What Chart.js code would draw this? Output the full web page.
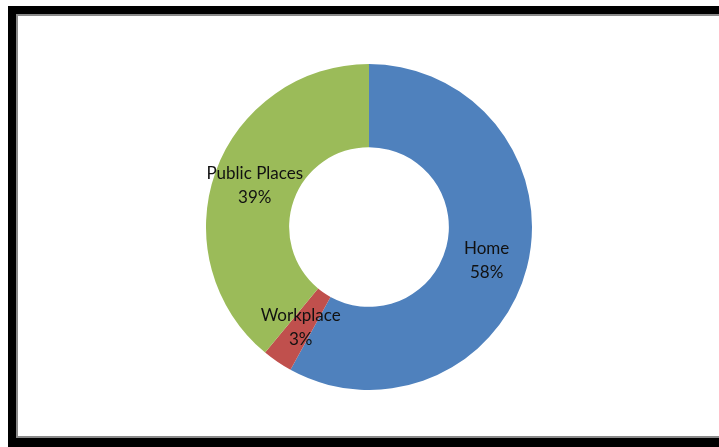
<!DOCTYPE html>
<html>
<head>
<meta charset="utf-8">
<script src="https://cdn.jsdelivr.net/npm/chart.js@4"></script>
<style>
  body { margin: 0; background: #fff; overflow: hidden; width: 719px; height: 447px; position: relative; }
  #frame { position: absolute; left: 8px; top: 6px; width: 800px; height: 500px; background: #000; }
  #edge { position: absolute; left: 16px; top: 14px; width: 800px; height: 424px; background: #8a8a8a; }
  #plot { position: absolute; left: 18px; top: 16px; width: 800px; height: 420px; background: #fff; }
  #box { position: absolute; left: 206px; top: 64px; width: 326px; height: 326px; }
</style>
</head>
<body>
<div id="frame"></div>
<div id="edge"></div>
<div id="plot"></div>
<div id="box"><canvas id="pieChart"></canvas></div>
<script>
// Données
const labels = ['Home', 'Workplace', 'Public Places'];
const values = [58, 3, 39];
const colors = ['#4F81BD', '#C0504D', '#9BBB59'];

// étiquettes au milieu de chaque part
const sliceLabels = {
  id: 'sliceLabels',
  afterDatasetsDraw(chart) {
    const ctx = chart.ctx;
    const meta = chart.getDatasetMeta(0);
    ctx.save();
    ctx.font = '17px Lato, sans-serif';
    ctx.fillStyle = '#111';
    ctx.textAlign = 'center';
    ctx.textBaseline = 'middle';
    meta.data.forEach((arc, i) => {
      const p = arc.tooltipPosition();
      const dy = i === 0 ? 3 : 0;
      ctx.fillText(labels[i], p.x, p.y - 12 + dy);
      ctx.fillText(values[i] + '%', p.x, p.y + 12 + dy);
    });
    ctx.restore();
  }
};

new Chart(document.getElementById('pieChart'), {
  type: 'doughnut',
  data: {
    labels: labels,
    datasets: [{
      data: values,
      backgroundColor: colors,
      borderWidth: 0,
      offset: 0,
      hoverOffset: 0
    }]
  },
  options: {
    responsive: true,
    maintainAspectRatio: false,
    animation: false,
    events: [],
    cutout: '49%',
    layout: { padding: 0 },
    plugins: {
      legend: { display: false },
      tooltip: { enabled: false }
    }
  },
  plugins: [sliceLabels]
});
</script>
</body>
</html>
